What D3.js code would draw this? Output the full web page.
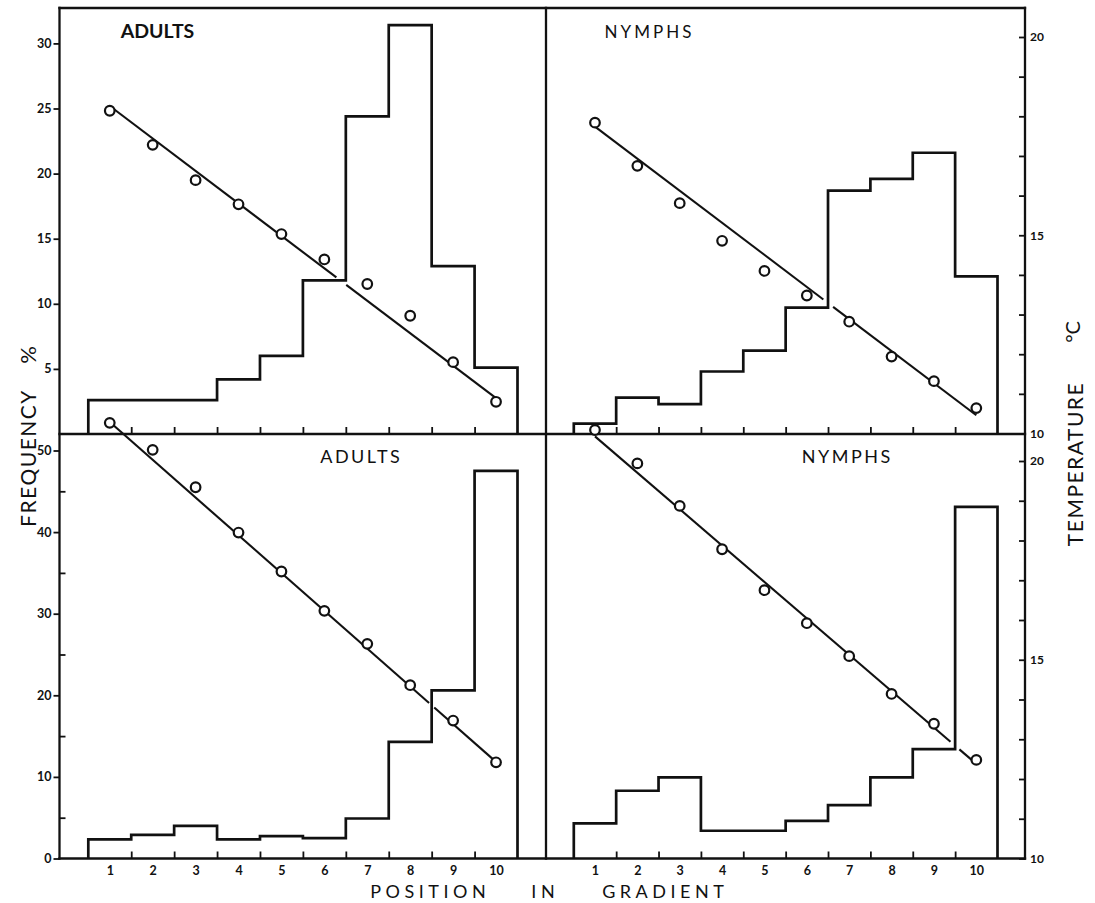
<!DOCTYPE html>
<html>
<head>
<meta charset="utf-8">
<script src="https://cdn.jsdelivr.net/npm/d3@7"></script>
<style>
  body { margin: 0; background: #fff; }
  svg { display: block; }
  text { font-family: Lato, "Liberation Sans", sans-serif; fill: #111; }
</style>
</head>
<body>
<svg id="chart" width="1095" height="903"></svg>
<script>
// ---------------- data ----------------
const positions = [1, 2, 3, 4, 5, 6, 7, 8, 9, 10];

// frequency % (histograms)
const freqAdultsTop    = [2.6, 2.6, 2.6, 4.2, 6.0, 11.8, 24.4, 31.4, 12.9, 5.1];
const freqNymphsTop    = [0.8, 2.8, 2.3, 4.8, 6.4, 9.7, 18.7, 19.6, 21.6, 12.1];
const freqAdultsBottom = [2.35, 2.9, 4.0, 2.35, 2.75, 2.5, 4.9, 14.3, 20.6, 47.5];
const freqNymphsBottom = [4.3, 8.3, 9.95, 3.4, 3.4, 4.6, 6.55, 9.95, 13.4, 43.1];

// temperature °C (open circles)
const tempAdultsTop    = [18.14, 17.28, 16.39, 15.78, 15.03, 14.39, 13.77, 12.97, 11.80, 10.80];
const tempNymphsTop    = [17.84, 16.75, 15.81, 14.86, 14.10, 13.48, 12.82, 11.94, 11.32, 10.64];
const tempAdultsBottom = [20.96, 20.28, 19.34, 18.20, 17.22, 16.23, 15.40, 14.36, 13.47, 12.42];
const tempNymphsBottom = [20.78, 19.94, 18.87, 17.78, 16.75, 15.92, 15.09, 14.14, 13.39, 12.48];

// fitted temperature lines: value at position 1 and at position 10
const fitAdultsTop    = [18.26, 10.89];
const fitNymphsTop    = [17.74, 10.46];
const fitAdultsBottom = [20.98, 12.43];
const fitNymphsBottom = [20.62, 12.38];
// where each fitted line is broken (positions)
const gapAdultsTop    = [6.28, 6.51];
const gapNymphsTop    = [6.39, 6.62];
const gapAdultsBottom = [8.44, 8.56];
const gapNymphsBottom = [9.39, 9.60];

// tick labels
const freqTicksTop = [5, 10, 15, 20, 25, 30];
const freqTicksBottom = [0, 10, 20, 30, 40, 50];
const freqMinorBottom = [5, 15, 25, 35, 45];
const tempTicks = [10, 11, 12, 13, 14, 15, 16, 17, 18, 19, 20];
const tempLabelled = [10, 15, 20];
const binEdges = [1.5, 2.5, 3.5, 4.5, 5.5, 6.5, 7.5, 8.5, 9.5];

// ---------------- layout ----------------
const svg = d3.select("#chart");
const ink = "#111";
const L = 59.5, R = 1025, T = 8, M = 434, B = 858.5, C = 546;

const xL = d3.scaleLinear().domain([0.5, 10.5]).range([88.3, 517.5]);
const xR = d3.scaleLinear().domain([0.5, 10.5]).range([573.8, 997.5]);
const yFT = d3.scaleLinear().domain([0, 30]).range([M, 43.4]);
const yFB = d3.scaleLinear().domain([0, 50]).range([B, 450.5]);
const yTT = d3.scaleLinear().domain([10, 20]).range([433.5, 37]);
const yTB = d3.scaleLinear().domain([10, 20]).range([B, 461]);

// ---------------- frame ----------------
const frame = svg.append("g").attr("stroke", ink).attr("stroke-width", 2.3).attr("fill", "none")
  .attr("stroke-linecap", "square");
[[L, T, R, T], [L, M, R, M], [L, B, R, B], [L, T, L, B], [R, T, R, B], [C, T, C, B]].forEach(s => {
  frame.append("line").attr("x1", s[0]).attr("y1", s[1]).attr("x2", s[2]).attr("y2", s[3]);
});

function styleAxis(g, size) {
  g.select(".domain").remove();
  g.selectAll("line").attr("stroke", ink).attr("stroke-width", 1.8);
  g.selectAll("text").attr("font-size", size || 12.5).attr("font-weight", 700).attr("fill", ink);
}

// left frequency axes
svg.append("g").attr("transform", `translate(${L},0)`)
  .call(d3.axisLeft(yFT).tickValues(freqTicksTop).tickSize(6).tickPadding(2).tickFormat(d3.format("d")))
  .call(g => styleAxis(g));
svg.append("g").attr("transform", `translate(${L},0)`)
  .call(d3.axisLeft(yFB).tickValues(freqTicksBottom).tickSize(6).tickPadding(2).tickFormat(d3.format("d")))
  .call(g => styleAxis(g));
svg.append("g").attr("transform", `translate(${L},0)`)
  .call(d3.axisRight(yFB).tickValues(freqMinorBottom).tickSize(6).tickFormat(""))
  .call(g => styleAxis(g));

// right temperature axes (ticks pointing inward)
[yTT, yTB].forEach(y => {
  svg.append("g").attr("transform", `translate(${R},0)`)
    .call(d3.axisRight(y).tickValues(tempTicks).tickSize(-6).tickPadding(5)
      .tickFormat(d => tempLabelled.includes(d) ? d : ""))
    .call(g => styleAxis(g, 12));
});

// x-axis edge ticks (pointing up)
[[xL, M], [xR, M], [xL, B], [xR, B]].forEach(([x, yb]) => {
  svg.append("g").attr("transform", `translate(0,${yb})`)
    .call(d3.axisBottom(x).tickValues(binEdges).tickSize(-7).tickFormat(""))
    .call(g => styleAxis(g));
});
// position labels under bottom panels
[xL, xR].forEach(x => {
  svg.append("g").attr("transform", `translate(0,${B})`)
    .call(d3.axisBottom(x).tickValues(positions).tickSize(0).tickPadding(8).tickFormat(d3.format("d")))
    .call(g => styleAxis(g, 12.5));
});

// ---------------- panels ----------------
const panels = [
  { x: xL, yF: yFT, yT: yTT, freq: freqAdultsTop, temp: tempAdultsTop, fit: fitAdultsTop, gap: gapAdultsTop },
  { x: xR, yF: yFT, yT: yTT, freq: freqNymphsTop, temp: tempNymphsTop, fit: fitNymphsTop, gap: gapNymphsTop },
  { x: xL, yF: yFB, yT: yTB, freq: freqAdultsBottom, temp: tempAdultsBottom, fit: fitAdultsBottom, gap: gapAdultsBottom },
  { x: xR, yF: yFB, yT: yTB, freq: freqNymphsBottom, temp: tempNymphsBottom, fit: fitNymphsBottom, gap: gapNymphsBottom }
];

panels.forEach(p => {
  // histogram as a step outline
  const pts = [[0.5, 0]];
  p.freq.forEach((v, i) => { pts.push([positions[i] - 0.5, v]); pts.push([positions[i] + 0.5, v]); });
  pts.push([10.5, 0]);
  svg.append("path")
    .attr("d", d3.line().x(d => p.x(d[0])).y(d => p.yF(d[1]))(pts))
    .attr("fill", "none").attr("stroke", ink).attr("stroke-width", 2.7)
    .attr("stroke-linejoin", "miter");

  // fitted temperature line, broken where it meets the histogram
  const tAt = d3.scaleLinear().domain([1, 10]).range(p.fit);
  const segs = [[1, p.gap[0]], [p.gap[1], 10]];
  segs.forEach(s => {
    svg.append("path")
      .attr("d", d3.line().x(d => p.x(d)).y(d => p.yT(tAt(d)))(s))
      .attr("stroke", ink).attr("stroke-width", 2.1).attr("fill", "none");
  });

  // temperature points
  svg.append("g").selectAll("circle").data(p.temp).join("circle")
    .attr("cx", (d, i) => p.x(positions[i]))
    .attr("cy", d => p.yT(d))
    .attr("r", 4.8)
    .attr("fill", "#fff").attr("stroke", ink).attr("stroke-width", 2.2);
});

// ---------------- labels ----------------
function label(txt, x, y, size, opts = {}) {
  const t = svg.append("text").text(txt)
    .attr("font-size", size)
    .attr("text-anchor", "middle")
    .attr("letter-spacing", opts.ls || 0)
    .attr("font-weight", opts.bold ? 700 : 400);
  if (opts.rotate) {
    t.attr("transform", `translate(${x},${y}) rotate(-90)`).attr("dominant-baseline", "central");
  } else {
    t.attr("x", x + (opts.ls || 0) / 2).attr("y", y);
  }
  return t;
}

label("ADULTS", 157.5, 37.5, 19.5, { bold: true });
label("NYMPHS", 648, 37.5, 17, { ls: 3 });
label("ADULTS", 360, 462.5, 18, { ls: 2.5 });
label("NYMPHS", 846, 462.5, 18, { ls: 2.5 });

label("FREQUENCY", 27, 458, 21, { ls: 1.5, rotate: true });
label("%", 27, 355, 22, { rotate: true });
label("TEMPERATURE", 1074, 464, 21, { ls: 1.5, rotate: true });
label("°C", 1072, 332, 20, { rotate: true });

label("POSITION", 428, 898, 18, { ls: 4.5 });
label("IN", 543, 898, 18, { ls: 4.5 });
label("GRADIENT", 663, 898, 18, { ls: 4.5 });
</script>
</body>
</html>
